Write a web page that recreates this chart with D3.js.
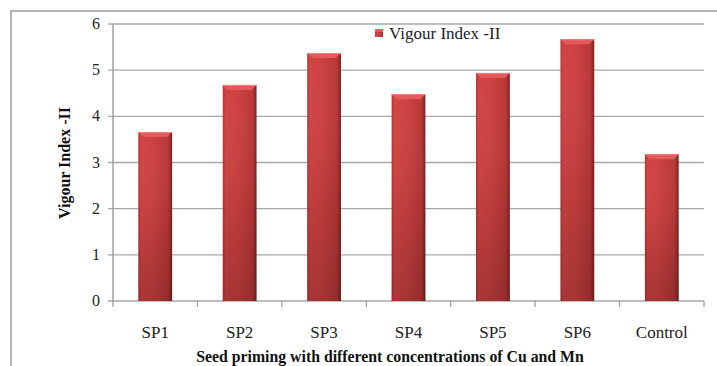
<!DOCTYPE html>
<html>
<head>
<meta charset="utf-8">
<script src="https://cdn.jsdelivr.net/npm/d3@7/dist/d3.min.js"></script>
<style>
  html, body { margin: 0; padding: 0; background: #fff; }
  svg { display: block; }
</style>
</head>
<body>
<svg id="chart" width="717" height="366"></svg>
<script>
// Vigour Index-II for each seed priming treatment
const categories = ["SP1", "SP2", "SP3", "SP4", "SP5", "SP6", "Control"];
const vigourIndex = [3.66, 4.68, 5.37, 4.48, 4.94, 5.67, 3.18];
const yTicks = [0, 1, 2, 3, 4, 5, 6];
const seriesName = "Vigour Index -II";
const xTitle = "Seed priming with different concentrations of Cu and Mn";
const yTitle = "Vigour Index -II";

const svg = d3.select("#chart");
const W = 717, H = 366;
const margin = { left: 113, right: 13, top: 24, bottom: 65 };
const serif = "Liberation Serif, serif";

// outer chart frame
svg.append("path")
  .attr("d", `M11,${H} V11 H${W}`)
  .attr("fill", "none").attr("stroke", "#b4b4b4").attr("stroke-width", 2);

const x = d3.scaleBand()
  .domain(categories)
  .range([margin.left, W - margin.right])
  .paddingInner(0.6).paddingOuter(0.3);

const y = d3.scaleLinear()
  .domain([0, 6])
  .range([H - margin.bottom, margin.top]);

// bar gradients
const defs = svg.append("defs");
const hg = defs.append("linearGradient").attr("id", "barH").attr("x1", 0).attr("x2", 1).attr("y1", 0).attr("y2", 0);
[["0%", "#b23232"], ["8%", "#d24444"], ["45%", "#cc4141"], ["88%", "#b93737"], ["96%", "#952828"], ["100%", "#761c1c"]]
  .forEach(([o, c]) => hg.append("stop").attr("offset", o).attr("stop-color", c));
const vg = defs.append("linearGradient").attr("id", "barV").attr("x1", 0).attr("x2", 0).attr("y1", 0).attr("y2", 1);
[["0%", "#ffffff", 0], ["55%", "#000000", 0.07], ["100%", "#000000", 0.2]]
  .forEach(([o, c, a]) => vg.append("stop").attr("offset", o).attr("stop-color", c).attr("stop-opacity", a));

// horizontal gridlines
svg.append("g").selectAll("line").data(yTicks).join("line")
  .attr("x1", margin.left - 5).attr("x2", W - margin.right)
  .attr("y1", d => y(d)).attr("y2", d => y(d))
  .attr("stroke", "#a8a8a8").attr("stroke-width", 1.3);

// y axis line
svg.append("line")
  .attr("x1", margin.left).attr("x2", margin.left)
  .attr("y1", y(6)).attr("y2", y(0) + 1)
  .attr("stroke", "#a0a0a0").attr("stroke-width", 1.5);

// y tick labels
svg.append("g").selectAll("text").data(yTicks).join("text")
  .attr("x", margin.left - 13).attr("y", d => y(d) + 5)
  .attr("text-anchor", "end")
  .attr("font-family", serif).attr("font-size", 16).attr("fill", "#222")
  .text(d => d);

// x axis tick marks at band boundaries
const step = x.step();
const bounds = d3.range(categories.length + 1).map(i => margin.left + i * step);
svg.append("g").selectAll("line").data(bounds).join("line")
  .attr("x1", d => d).attr("x2", d => d)
  .attr("y1", y(0)).attr("y2", y(0) + 6)
  .attr("stroke", "#a0a0a0").attr("stroke-width", 1.3);

// bars
const bars = svg.append("g");
categories.forEach((c, i) => {
  const bx = x(c), bw = x.bandwidth(), by = y(vigourIndex[i]), bh = y(0) - by;
  bars.append("rect").attr("x", bx).attr("y", by).attr("width", bw).attr("height", bh).attr("fill", "url(#barH)");
  bars.append("rect").attr("x", bx).attr("y", by).attr("width", bw).attr("height", bh).attr("fill", "url(#barV)");
  // top bevel
  const b = 5;
  bars.append("path")
    .attr("d", `M${bx},${by} H${bx + bw} L${bx + bw - b},${by + b} H${bx + b} Z`)
    .attr("fill", "#e45a5a");
  bars.append("line")
    .attr("x1", bx).attr("x2", bx + bw).attr("y1", by + 0.5).attr("y2", by + 0.5)
    .attr("stroke", "#f08080").attr("stroke-width", 1);
});

// x tick labels
svg.append("g").selectAll("text").data(categories).join("text")
  .attr("x", d => x(d) + x.bandwidth() / 2).attr("y", 338)
  .attr("text-anchor", "middle")
  .attr("font-family", serif).attr("font-size", 17).attr("fill", "#222")
  .text(d => d);

// axis titles
svg.append("text")
  .attr("x", 390).attr("y", 362)
  .attr("text-anchor", "middle")
  .attr("font-family", serif).attr("font-weight", "bold").attr("font-size", 15.8).attr("fill", "#111")
  .text(xTitle);

svg.append("text")
  .attr("transform", "translate(70,163) rotate(-90)")
  .attr("text-anchor", "middle")
  .attr("font-family", serif).attr("font-weight", "bold").attr("font-size", 16).attr("fill", "#111")
  .text(yTitle);

// legend
const lg = svg.append("g").attr("transform", "translate(375,29)");
lg.append("rect").attr("width", 8).attr("height", 8).attr("fill", "url(#barH)");
lg.append("rect").attr("width", 8).attr("height", 3).attr("fill", "#e45a5a");
lg.append("text").attr("x", 14).attr("y", 10)
  .attr("font-family", serif).attr("font-size", 17).attr("fill", "#222")
  .text(seriesName);
</script>
</body>
</html>
